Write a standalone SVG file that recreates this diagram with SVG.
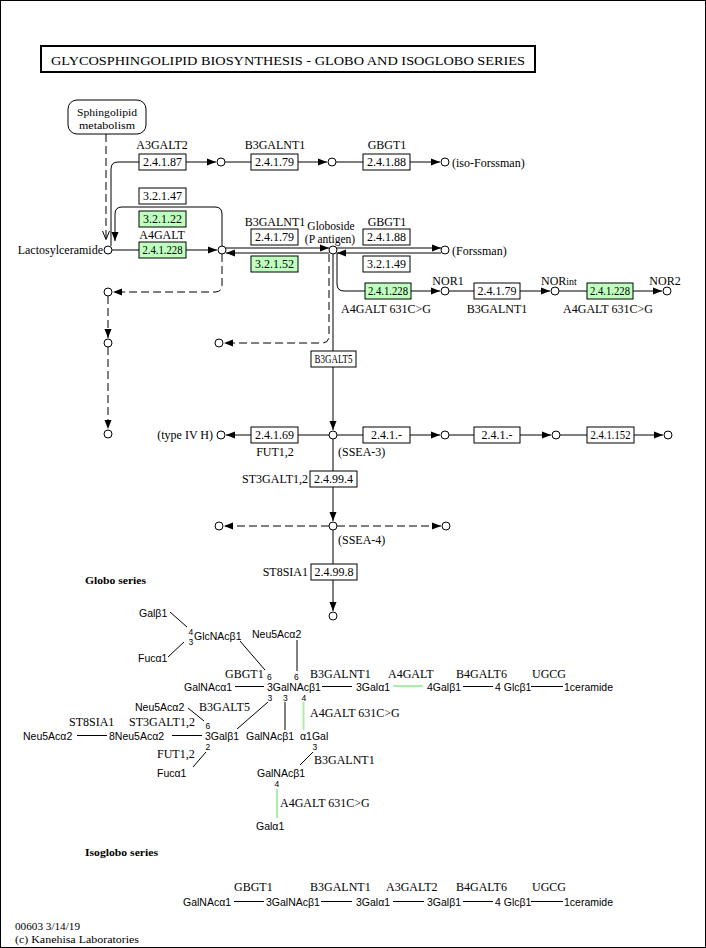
<svg xmlns="http://www.w3.org/2000/svg" width="706" height="948" viewBox="0 0 706 948">
<defs>
<marker id="ah" markerWidth="9" markerHeight="8" refX="9" refY="4" orient="auto" markerUnits="userSpaceOnUse"><path d="M0,0.5 L9,4 L0,7.5 z" fill="#000"/></marker>
<style>
.bx{fill:#fff;stroke:#000;stroke-width:1}
.gr{fill:#bfffbf;stroke:#000;stroke-width:1}
.t{font-family:"Liberation Serif","Times New Roman",serif;font-size:12px;fill:#000}
.m{text-anchor:middle}
.e{text-anchor:end}
.s{font-family:"Liberation Sans",Arial,sans-serif;font-size:10.5px;fill:#000}
.n{font-family:"Liberation Sans",Arial,sans-serif;font-size:8.5px;fill:#000}
.b{font-family:"Liberation Serif","Times New Roman",serif;font-size:11px;font-weight:bold;fill:#000}
.ln{stroke:#000;stroke-width:1;fill:none}
.ar{stroke:#000;stroke-width:1;fill:none;marker-end:url(#ah)}
.d{stroke-dasharray:8 4}
.c{fill:#fff;stroke:#000;stroke-width:1}
.gl{stroke:#aaeeaa;stroke-width:2;fill:none}
</style>
</defs>
<rect x="0.5" y="0.5" width="705" height="947" fill="#fff" stroke="#000"/>

<g id="title">
<rect x="41" y="46" width="494" height="26" fill="#fff" stroke="#000" stroke-width="2"/>
<text class="t m" x="288" y="65" textLength="474" lengthAdjust="spacingAndGlyphs">GLYCOSPHINGOLIPID BIOSYNTHESIS - GLOBO AND ISOGLOBO SERIES</text>
</g>

<g id="connectors">
<path class="ln d" d="M106,134 V238"/>
<polyline class="ln" points="102.5,231 106,239.5 109.5,231"/>
<path class="ln" d="M111,246 V169 Q111,162 118,162 H139"/>
<path class="ar" d="M186,162 H216"/>
<path class="ln" d="M225,162 H251"/>
<path class="ar" d="M298,162 H327"/>
<path class="ln" d="M336,162 H363"/>
<path class="ar" d="M410,162 H440"/>
<path class="ar" d="M222,246 V214 Q222,207 215,207 H122 Q115,207 115,214 V241"/>
<path class="ln" d="M112,250 H139"/>
<path class="ar" d="M186,250 H217"/>
<path class="ar d" d="M222,254 V285 Q222,292 215,292 H113"/>
<path class="ar d" d="M108,296 V338"/>
<path class="ar d" d="M108,347 V429"/>
<path class="ar" d="M226,248 H329"/>
<path class="ar" d="M329,253 H226"/>
<path class="ar" d="M337,248 H441"/>
<path class="ar" d="M441,253 H337"/>
<path class="ar d" d="M329,254 V336 Q329,343 322,343 H224"/>
<path class="ln" d="M333,254 V351"/>
<path class="ln" d="M337,253 V284 Q337,291 344,291 H365"/>
<path class="ar" d="M411,291 H440"/>
<path class="ln" d="M449,291 H474"/>
<path class="ar" d="M520,291 H550"/>
<path class="ln" d="M559,291 H587"/>
<path class="ar" d="M633,291 H662"/>
<path class="ar" d="M333,367 V430"/>
<path class="ln" d="M329,435 H298"/>
<path class="ar" d="M251,435 H226"/>
<path class="ln" d="M337,435 H363"/>
<path class="ar" d="M410,435 H440"/>
<path class="ln" d="M449,435 H474"/>
<path class="ar" d="M520,435 H551"/>
<path class="ln" d="M560,435 H587"/>
<path class="ar" d="M634,435 H663"/>
<path class="ln" d="M333,439 V471"/>
<path class="ar" d="M333,487 V521"/>
<path class="ar d" d="M329,526 H224"/>
<path class="ar d" d="M337,526 H441"/>
<path class="ln" d="M333,530 V564"/>
<path class="ar" d="M333,580 V611"/>
</g>

<g id="sphingolipid">
<rect x="68" y="100" width="78" height="34" rx="9" fill="#fff" stroke="#000"/>
<text class="t m" style="font-size:11px"><tspan x="107" y="116" textLength="60" lengthAdjust="spacingAndGlyphs">Sphingolipid</tspan><tspan x="107" y="128.5" textLength="56" lengthAdjust="spacingAndGlyphs">metabolism</tspan></text>
</g>

<g id="lactosylceramide"><circle class="c" cx="108" cy="250" r="4"/><text class="t e" x="103" y="254">Lactosylceramide</text></g>
<g id="c_r1a"><circle class="c" cx="221" cy="162" r="4"/></g>
<g id="c_r1b"><circle class="c" cx="332" cy="162" r="4"/></g>
<g id="isoforssman"><circle class="c" cx="445" cy="162" r="4"/><text class="t" x="452" y="167">(iso-Forssman)</text></g>
<g id="c_gb3"><circle class="c" cx="222" cy="250" r="4"/></g>
<g id="globoside"><circle class="c" cx="333" cy="250" r="4"/><text class="t m" style="font-size:11.5px"><tspan x="331" y="229.5">Globoside</tspan><tspan x="330" y="242.5">(P antigen)</tspan></text></g>
<g id="forssman"><circle class="c" cx="445" cy="250" r="4"/><text class="t" x="452" y="255">(Forssman)</text></g>
<g id="c_l1"><circle class="c" cx="108" cy="292" r="4"/></g>
<g id="c_l2"><circle class="c" cx="108" cy="343" r="4"/></g>
<g id="c_l3"><circle class="c" cx="108" cy="434" r="4"/></g>
<g id="c_m1"><circle class="c" cx="219" cy="343" r="4"/></g>
<g id="nor1"><circle class="c" cx="445" cy="291" r="4"/><text class="t m" x="448" y="285">NOR1</text></g>
<g id="norint"><circle class="c" cx="555" cy="291" r="4"/><text class="t" x="541" y="285">NOR<tspan style="font-size:10px">int</tspan></text></g>
<g id="nor2"><circle class="c" cx="667" cy="291" r="4"/><text class="t m" x="665" y="285">NOR2</text></g>
<g id="typeIVH"><circle class="c" cx="221" cy="435" r="4"/><text class="t e" x="213" y="439">(type IV H)</text></g>
<g id="ssea3"><circle class="c" cx="333" cy="435" r="4"/><text class="t" x="338" y="456">(SSEA-3)</text></g>
<g id="c_s1"><circle class="c" cx="445" cy="435" r="4"/></g>
<g id="c_s2"><circle class="c" cx="556" cy="435" r="4"/></g>
<g id="c_s3"><circle class="c" cx="668" cy="435" r="4"/></g>
<g id="ssea4"><circle class="c" cx="333" cy="526" r="4"/><text class="t" x="338" y="544">(SSEA-4)</text></g>
<g id="c_s4l"><circle class="c" cx="219" cy="526" r="4"/></g>
<g id="c_s4r"><circle class="c" cx="446" cy="526" r="4"/></g>
<g id="c_end"><circle class="c" cx="333" cy="616" r="4"/></g>

<g id="e_2.4.1.87"><text class="t m" x="162" y="149">A3GALT2</text><rect class="bx" x="139" y="154" width="47" height="16"/><text class="t m" x="162.5" y="166">2.4.1.87</text></g>
<g id="e_2.4.1.79a"><text class="t m" x="275" y="149">B3GALNT1</text><rect class="bx" x="251" y="154" width="47" height="16"/><text class="t m" x="274.5" y="166">2.4.1.79</text></g>
<g id="e_2.4.1.88a"><text class="t m" x="387" y="149">GBGT1</text><rect class="bx" x="363" y="154" width="47" height="16"/><text class="t m" x="386.5" y="166">2.4.1.88</text></g>
<g id="e_3.2.1.47"><rect class="bx" x="139" y="188" width="47" height="16"/><text class="t m" x="162.5" y="200">3.2.1.47</text></g>
<g id="e_3.2.1.22"><rect class="gr" x="139" y="211" width="47" height="16"/><text class="t m" x="162.5" y="223">3.2.1.22</text></g>
<g id="e_2.4.1.228a"><text class="t m" x="162" y="239">A4GALT</text><rect class="gr" x="139" y="242" width="47" height="16"/><text class="t m" x="162.5" y="254" textLength="40" lengthAdjust="spacingAndGlyphs">2.4.1.228</text></g>
<g id="e_2.4.1.79b"><text class="t m" x="275" y="226">B3GALNT1</text><rect class="bx" x="251" y="229" width="47" height="16"/><text class="t m" x="274.5" y="241">2.4.1.79</text></g>
<g id="e_3.2.1.52"><rect class="gr" x="251" y="256" width="47" height="16"/><text class="t m" x="274.5" y="268">3.2.1.52</text></g>
<g id="e_2.4.1.88b"><text class="t m" x="387" y="226">GBGT1</text><rect class="bx" x="363" y="229" width="47" height="16"/><text class="t m" x="386.5" y="241">2.4.1.88</text></g>
<g id="e_3.2.1.49"><rect class="bx" x="363" y="256" width="47" height="16"/><text class="t m" x="386.5" y="268">3.2.1.49</text></g>
<g id="e_2.4.1.228b"><rect class="gr" x="365" y="283" width="46" height="16"/><text class="t m" x="388" y="295" textLength="40" lengthAdjust="spacingAndGlyphs">2.4.1.228</text><text class="t m" x="386" y="313">A4GALT 631C&gt;G</text></g>
<g id="e_2.4.1.79c"><rect class="bx" x="474" y="283" width="46" height="16"/><text class="t m" x="497" y="295">2.4.1.79</text><text class="t m" x="497" y="313">B3GALNT1</text></g>
<g id="e_2.4.1.228c"><rect class="gr" x="587" y="283" width="46" height="16"/><text class="t m" x="610" y="295" textLength="40" lengthAdjust="spacingAndGlyphs">2.4.1.228</text><text class="t m" x="608" y="313">A4GALT 631C&gt;G</text></g>
<g id="e_B3GALT5"><rect class="bx" x="311" y="351" width="45" height="16"/><text class="t m" x="333.5" y="363" textLength="38" lengthAdjust="spacingAndGlyphs">B3GALT5</text></g>
<g id="e_2.4.1.69"><rect class="bx" x="251" y="427" width="47" height="16"/><text class="t m" x="274.5" y="439">2.4.1.69</text><text class="t m" x="275" y="456">FUT1,2</text></g>
<g id="e_2.4.1.-a"><rect class="bx" x="363" y="427" width="47" height="16"/><text class="t m" x="386.5" y="439">2.4.1.-</text></g>
<g id="e_2.4.1.-b"><rect class="bx" x="474" y="427" width="46" height="16"/><text class="t m" x="497" y="439">2.4.1.-</text></g>
<g id="e_2.4.1.152"><rect class="bx" x="587" y="427" width="47" height="16"/><text class="t m" x="610.5" y="439" textLength="40" lengthAdjust="spacingAndGlyphs">2.4.1.152</text></g>
<g id="e_2.4.99.4"><text class="t e" x="308" y="483">ST3GALT1,2</text><rect class="bx" x="310" y="471" width="47" height="16"/><text class="t m" x="333.5" y="483">2.4.99.4</text></g>
<g id="e_2.4.99.8"><text class="t e" x="308" y="576">ST8SIA1</text><rect class="bx" x="311" y="564" width="46" height="16"/><text class="t m" x="334" y="576">2.4.99.8</text></g>

<g id="globo_series">
<text class="b" x="85" y="584" textLength="61" lengthAdjust="spacingAndGlyphs">Globo series</text>
<text class="s" x="139" y="617">Galβ1</text>
<line class="ln" x1="170" y1="612" x2="187" y2="627"/>
<text class="n" x="188.5" y="634.5">4</text>
<text class="n" x="188.5" y="645">3</text>
<text class="s" x="194" y="639.5">GlcNAcβ1</text>
<text class="s" x="138" y="662">Fucα1</text>
<line class="ln" x1="168" y1="657" x2="184" y2="642"/>
<text class="s" x="252" y="638">Neu5Acα2</text>
<line class="ln" x1="297" y1="640" x2="297" y2="671"/>
<line class="ln" x1="240" y1="641" x2="265" y2="670"/>
<text class="t" x="225" y="678">GBGT1</text>
<text class="n" x="267" y="679.5">6</text>
<text class="n" x="294" y="679.5">6</text>
<text class="s" x="267" y="691">3GalNAcβ1</text>
<text class="n" x="267.5" y="701">3</text>
<text class="n" x="283" y="701">3</text>
<text class="n" x="301.5" y="701">4</text>
<text class="s" x="184" y="691">GalNAcα1</text>
<line class="ln" x1="235" y1="686.5" x2="264" y2="686.5"/>
<text class="t" x="310" y="678">B3GALNT1</text>
<line class="ln" x1="322" y1="686.5" x2="352" y2="686.5"/>
<text class="s" x="356" y="691">3Galα1</text>
<line class="gl" x1="393" y1="686" x2="423" y2="686"/>
<text class="t" x="388" y="678">A4GALT</text>
<text class="s" x="427" y="691">4Galβ1</text>
<line class="ln" x1="463" y1="686.5" x2="493" y2="686.5"/>
<text class="t" x="456" y="678">B4GALT6</text>
<text class="s" x="495" y="691">4 Glcβ1</text>
<line class="ln" x1="531" y1="686.5" x2="563" y2="686.5"/>
<text class="t" x="532" y="678">UGCG</text>
<text class="s" x="564" y="691">1ceramide</text>

<text class="s" x="135" y="711">Neu5Acα2</text>
<text class="t" x="199" y="711">B3GALT5</text>
<line class="ln" x1="188" y1="708" x2="204" y2="721"/>
<text class="t" x="69" y="726">ST8SIA1</text>
<text class="t" x="129" y="726">ST3GALT1,2</text>
<text class="s" x="23" y="740">Neu5Acα2</text>
<line class="ln" x1="77" y1="735.5" x2="107" y2="735.5"/>
<text class="s" x="109" y="740">8Neu5Acα2</text>
<line class="ln" x1="172" y1="735.5" x2="202" y2="735.5"/>
<text class="n" x="205.5" y="728.5">6</text>
<text class="s" x="205" y="740">3Galβ1</text>
<text class="n" x="205.5" y="750">2</text>
<line class="ln" x1="237" y1="729" x2="268" y2="702"/>
<text class="s" x="246" y="740">GalNAcβ1</text>
<line class="ln" x1="285" y1="702" x2="285" y2="730"/>
<line class="gl" x1="303.5" y1="702" x2="303.5" y2="730"/>
<text class="t" x="310" y="717">A4GALT 631C&gt;G</text>
<text class="s" x="300" y="740">α1Gal</text>
<text class="n" x="312.5" y="750">3</text>
<text class="t" x="157" y="758">FUT1,2</text>
<line class="ln" x1="193" y1="767" x2="206" y2="752"/>
<text class="s" x="157" y="777">Fucα1</text>
<line class="ln" x1="300" y1="765" x2="313" y2="752"/>
<text class="t" x="314" y="764">B3GALNT1</text>
<text class="s" x="257" y="777">GalNAcβ1</text>
<text class="n" x="274.5" y="787">4</text>
<line class="gl" x1="277" y1="789" x2="277" y2="818"/>
<text class="t" x="280" y="807">A4GALT 631C&gt;G</text>
<text class="s" x="256" y="830">Galα1</text>
</g>

<g id="isoglobo_series">
<text class="b" x="85" y="856" textLength="73" lengthAdjust="spacingAndGlyphs">Isoglobo series</text>
<text class="t" x="234" y="891">GBGT1</text>
<text class="t" x="310" y="891">B3GALNT1</text>
<text class="t" x="386" y="891">A3GALT2</text>
<text class="t" x="456" y="891">B4GALT6</text>
<text class="t" x="532" y="891">UGCG</text>
<text class="s" x="183" y="906">GalNAcα1</text>
<line class="ln" x1="234" y1="901.5" x2="264" y2="901.5"/>
<text class="s" x="266" y="906">3GalNAcβ1</text>
<line class="ln" x1="321" y1="901.5" x2="352" y2="901.5"/>
<text class="s" x="356" y="906">3Galα1</text>
<line class="ln" x1="393" y1="901.5" x2="424" y2="901.5"/>
<text class="s" x="427" y="906">3Galβ1</text>
<line class="ln" x1="463" y1="901.5" x2="493" y2="901.5"/>
<text class="s" x="495" y="906">4 Glcβ1</text>
<line class="ln" x1="531" y1="901.5" x2="563" y2="901.5"/>
<text class="s" x="564" y="906">1ceramide</text>
</g>

<g id="footer">
<text class="t" x="15" y="930" style="font-size:11px" textLength="65" lengthAdjust="spacingAndGlyphs">00603 3/14/19</text>
<text class="t" x="15" y="943" style="font-size:11px" textLength="124" lengthAdjust="spacingAndGlyphs">(c) Kanehisa Laboratories</text>
</g>
</svg>
